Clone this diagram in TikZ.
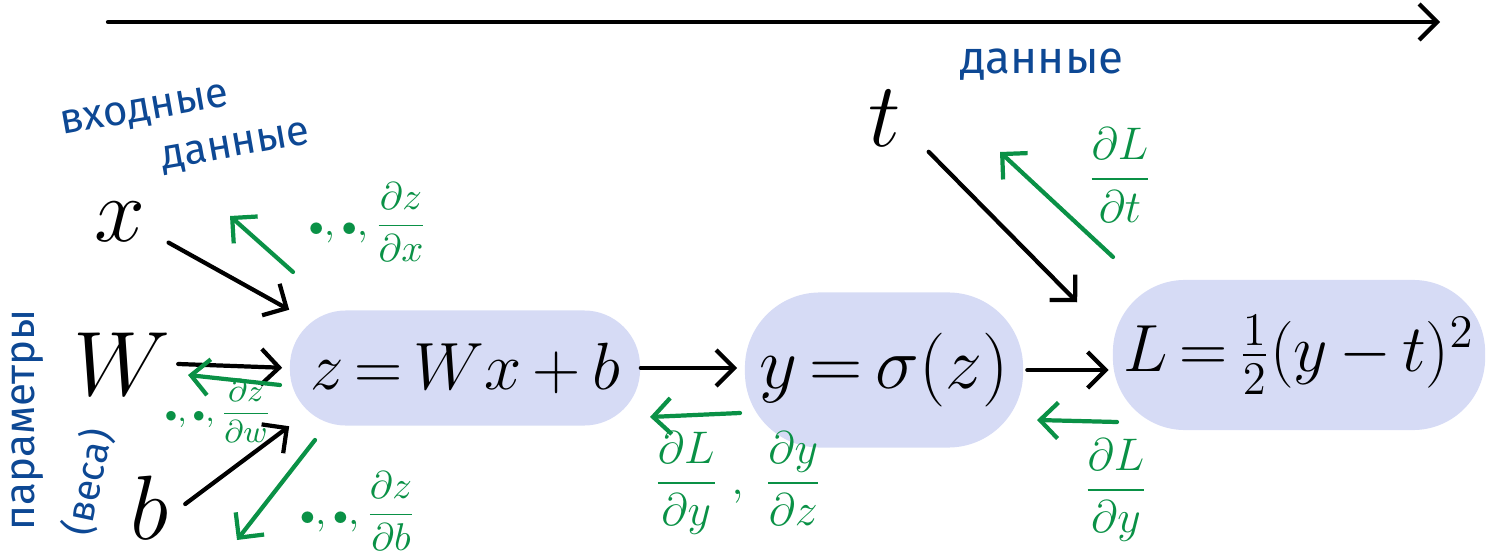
\RequirePackage{fix-cm}
\documentclass[tikz,border=0pt]{standalone}
\usepackage{amsmath, amssymb}
\usepackage{fontspec}
\newfontfamily\cyrfont{Fira Sans}
\usepackage{tikz}
\usetikzlibrary{arrows.meta, positioning, calc}
\definecolor{GraphBlue}{RGB}{214, 219, 245}
\definecolor{GradGreen}{RGB}{10, 145, 70}
\definecolor{NoteBlue}{RGB}{13, 72, 148}
\tikzset{every node/.style={font=\small}, every path/.style={line cap=round, line join=round}, >={Straight Barb[length=1.8mm, width=3.6mm]}}
\tikzset{
    opnode/.style={fill=GraphBlue, rounded corners=0.56cm, inner sep=0pt, font=\fontsize{19}{23}\selectfont},
    varnode/.style={inner sep=2pt, font=\fontsize{26}{30}\selectfont},
    note/.style={text=NoteBlue, inner sep=1pt, font=\cyrfont\fontsize{12}{14}\selectfont},
    fwd/.style={black, line width=1.2pt, ->},
    grad/.style={GradGreen, line width=1.2pt, ->},
    gradlabel/.style={text=GradGreen, inner sep=1pt}
}
\newcommand{\pdot}{{\scriptstyle\bullet}}

\begin{document}
\begin{tikzpicture}[x=0.01cm, y=-0.01cm]
    \useasboundingbox (0,0) rectangle (1486,555);
    % direction of the forward pass
    \coordinate (fwdstart) at (108,22);
    \coordinate (fwdend) at (1440,22);
    \draw [fwd] (fwdstart) -- (fwdend);

    % operations
    \node [opnode, minimum width=3.5cm, minimum height=1.15cm] (zop) at (465,368) {$z\,{=}\,Wx\,{+}\,b$};
    \node [opnode, rounded corners=0.75cm, minimum width=2.78cm, minimum height=1.55cm, font=\fontsize{21}{25}\selectfont] (yop) at (884,370) {$y\,{=}\,\sigma(z)$};
    \node [opnode, rounded corners=0.72cm, minimum width=3.72cm, minimum height=1.5cm] (lop) at (1299,355) {$L\,{=}\,\tfrac{1}{2}(y\,{-}\,t)^2$};

    % inputs, parameters, target
    \node [varnode] (x) at (120,222) {$x$};
    \node [varnode] (W) at (122,364) {$W$};
    \node [varnode] (b) at (150,508) {$b$};
    \node [varnode] (t) at (885,118) {$t$};

    % notes
    \node [note, rotate=10] (innote) at (145,112) {входные};
    \node [note, rotate=10] (indata) at (236,148) {данные};
    \node [note, font=\cyrfont\fontsize{13}{15}\selectfont] (tnote) at (1042,65) {данные};
    \node [note, rotate=90] (pnote) at (28,420) {параметры};
    \node [note, rotate=78, font=\cyrfont\fontsize{11}{13}\selectfont] (wnote) at (88,482) {(веса)};

    % forward edges
    \draw [fwd, shorten <=5pt] (x.-20) -- (zop.north west);
    \draw [fwd, shorten >=2pt] (W.east) -- (zop.west);
    \draw [fwd, shorten <=3pt] (b.-5) -- (zop.south west);
    \draw [fwd, shorten >=2pt] (zop.east) -- (zop.east -| yop.west);
    \draw [fwd, shorten <=1pt, shorten >=1pt] (yop.east) -- (yop.east -| lop.west);
    \draw [fwd, shorten <=8pt] (t.-30) -- ($(lop.north west)+(-35,23)$);

    % gradients
    \coordinate (gx1) at (293,272); \coordinate (gx2) at (230,216);
    \draw [grad] (gx1) -- (gx2);
    \node [gradlabel, font=\fontsize{11}{13}\selectfont] (dzdx) at (368,222) {$\pdot,\pdot,\dfrac{\partial z}{\partial x}$};

    \coordinate (gw1) at (280,385); \coordinate (gw2) at (188,375);
    \draw [grad] (gw1) -- (gw2);
    \node [gradlabel, font=\fontsize{9}{11}\selectfont] (dzdw) at (218,411) {$\pdot,\pdot,\dfrac{\partial z}{\partial w}$};

    \coordinate (gb1) at (315,440); \coordinate (gb2) at (237,540);
    \draw [grad] (gb1) -- (gb2);
    \node [gradlabel, font=\fontsize{11}{13}\selectfont] (dzdb) at (358,511) {$\pdot,\pdot,\dfrac{\partial z}{\partial b}$};

    \coordinate (gz1) at (740,413); \coordinate (gz2) at (650,417);
    \draw [grad] (gz1) -- (gz2);
    \node [gradlabel, font=\fontsize{13}{15}\selectfont] (dLdz) at (738,483) {$\dfrac{\partial L}{\partial y}\;,\;\dfrac{\partial y}{\partial z}$};

    \coordinate (gy1) at (1117,422); \coordinate (gy2) at (1037,420);
    \draw [grad] (gy1) -- (gy2);
    \node [gradlabel, font=\fontsize{13}{15}\selectfont] (dLdy) at (1116,490) {$\dfrac{\partial L}{\partial y}$};

    \coordinate (gt1) at (1113,257); \coordinate (gt2) at (1000,152);
    \draw [grad] (gt1) -- (gt2);
    \node [gradlabel, font=\fontsize{13}{15}\selectfont] (dLdt) at (1120,175) {$\dfrac{\partial L}{\partial t}$};
\end{tikzpicture}
\end{document}
